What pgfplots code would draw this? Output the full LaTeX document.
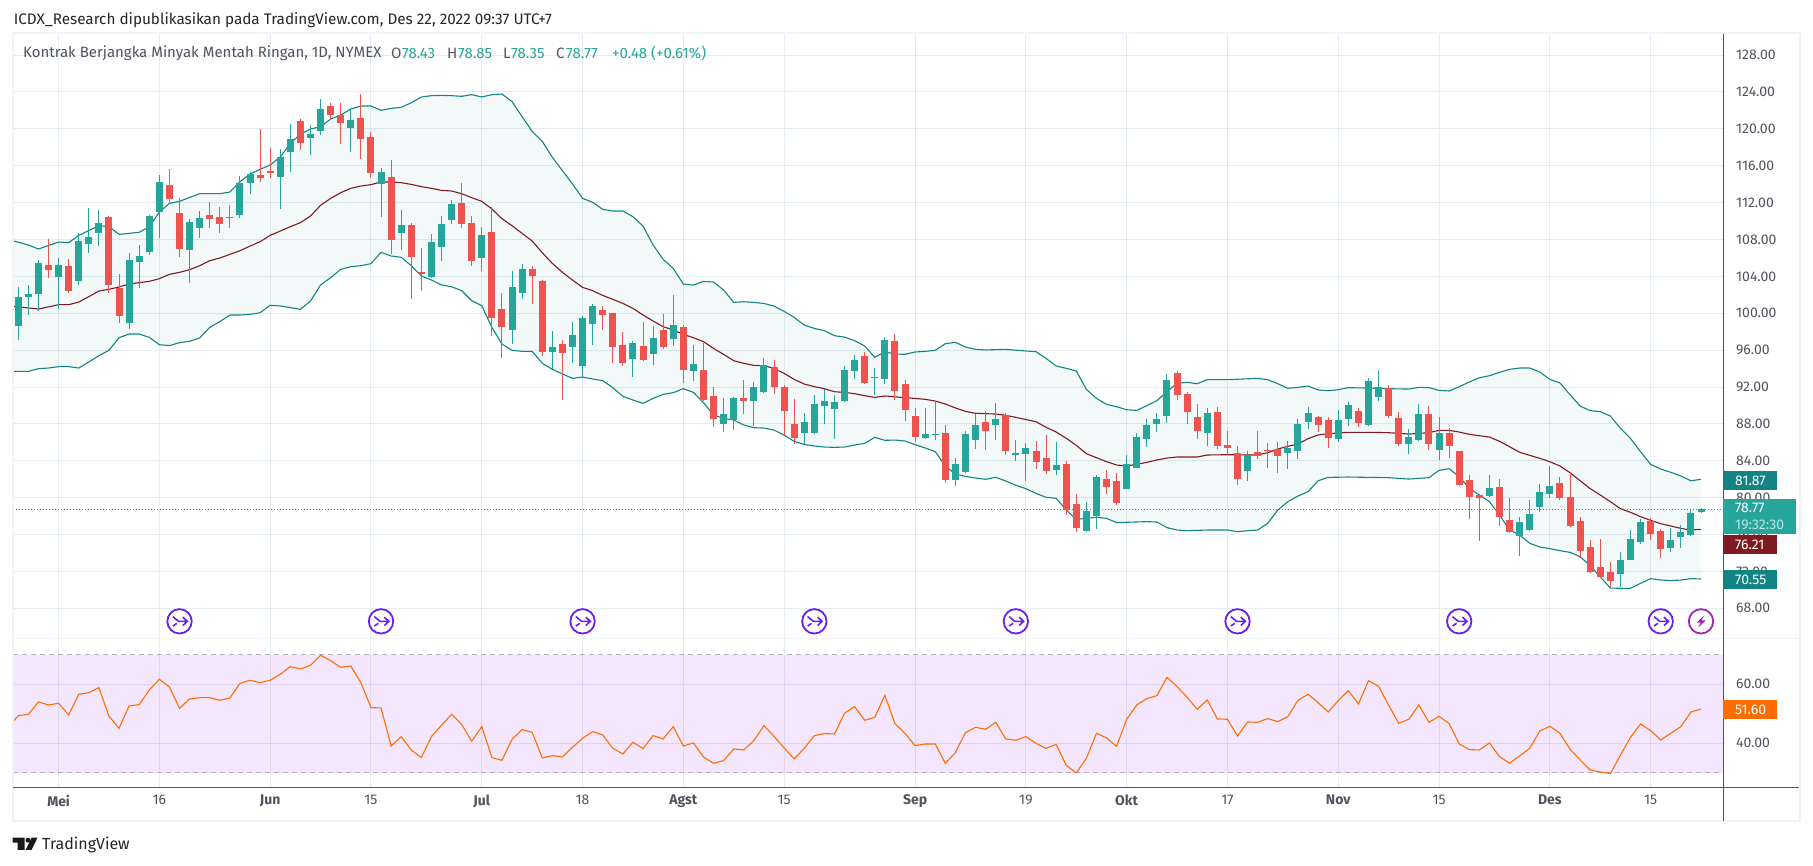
\documentclass[border=0pt]{standalone}
\usepackage{fontspec}
\setmainfont{Fira Sans}
\usepackage{pgfplots}
\usepackage{pgfplotstable}
\pgfplotsset{compat=1.18}
\usepgfplotslibrary{fillbetween}

\definecolor{tvgreen}{HTML}{26A69A}
\definecolor{tvred}{HTML}{EF5350}
\definecolor{bbteal}{HTML}{138484}
\definecolor{bbmid}{HTML}{801922}
\definecolor{tvgrid}{HTML}{E3ECF2}
\definecolor{tvframe}{HTML}{F0F3FA}
\definecolor{tvtext}{HTML}{50535E}
\definecolor{tvaxis}{HTML}{50535E}
\definecolor{rsiline}{HTML}{FF6D00}
\definecolor{rsifill}{RGB}{145,15,235}
\definecolor{rsidash}{HTML}{B9A9C4}
\definecolor{splitcol}{HTML}{6A1FF0}
\definecolor{boltcol}{HTML}{9C27B0}

% dividend / split style event icons
\pgfdeclareplotmark{splitevent}{%
  \pgfsetlinewidth{1.8pt}\pgfsetfillcolor{white}%
  \pgfpathcircle{\pgfpointorigin}{12.2pt}\pgfusepathqfillstroke
  \pgfsetlinewidth{1.6pt}%
  \pgfpathmoveto{\pgfqpoint{-6.7pt}{4.7pt}}\pgfpathlineto{\pgfqpoint{-1pt}{0pt}}\pgfpathlineto{\pgfqpoint{7.6pt}{0pt}}%
  \pgfpathmoveto{\pgfqpoint{3.3pt}{4.2pt}}\pgfpathlineto{\pgfqpoint{7.8pt}{0pt}}\pgfpathlineto{\pgfqpoint{3.3pt}{-4.2pt}}%
  \pgfpathmoveto{\pgfqpoint{-6.7pt}{-4.7pt}}\pgfpathlineto{\pgfqpoint{-2.7pt}{-2pt}}%
  \pgfusepathqstroke}
\pgfdeclareplotmark{boltevent}{%
  \pgfsetlinewidth{1.8pt}\pgfsetfillcolor{white}%
  \pgfpathcircle{\pgfpointorigin}{12.2pt}\pgfusepathqfillstroke
  \pgfsetfillcolor{boltcol}%
  \pgfpathmoveto{\pgfqpoint{3.3pt}{6pt}}\pgfpathlineto{\pgfqpoint{-4.3pt}{-1.3pt}}\pgfpathlineto{\pgfqpoint{-0.3pt}{-1.3pt}}%
  \pgfpathlineto{\pgfqpoint{-3pt}{-6.3pt}}\pgfpathlineto{\pgfqpoint{4.7pt}{0.9pt}}\pgfpathlineto{\pgfqpoint{0.7pt}{0.9pt}}\pgfpathclose
  \pgfusepathqfill}

\pgfplotstableread{
i o h l c
0 98.62 102.88 97.10 101.76
1 101.76 103.07 99.81 102.13
2 102.13 105.78 100.28 105.45
4 103.93 105.96 100.43 105.23
6 103.50 108.67 103.07 107.84
7 107.51 111.42 106.54 108.27
8 108.70 111.20 107.29 109.79
11 98.94 106.50 98.29 105.78
12 105.56 107.40 102.78 106.21
13 106.64 110.66 106.32 110.55
14 110.98 114.99 108.16 114.24
17 106.86 110.22 103.28 109.90
18 109.25 111.09 108.16 110.33
22 110.66 114.89 110.33 114.13
23 114.13 115.32 112.93 115.10
26 114.78 117.81 111.31 116.95
27 117.49 120.53 115.32 118.90
29 119.01 120.42 117.16 119.44
30 119.77 123.24 119.33 122.15
33 120.09 122.26 117.49 120.96
36 114.02 115.75 110.44 115.32
38 108.70 111.20 106.86 109.57
41 103.93 108.60 103.80 107.73
42 107.19 110.55 105.67 109.68
43 110.11 112.28 109.68 111.85
46 105.99 109.35 104.58 108.48
49 98.18 104.58 96.66 102.84
50 102.19 105.34 101.54 104.80
53 95.80 98.07 93.95 96.34
55 96.34 99.05 94.60 97.64
56 94.28 99.70 93.08 99.48
57 98.83 101.00 96.55 100.78
61 95.04 96.99 93.08 96.77
63 95.58 98.62 94.39 97.31
65 97.21 101.98 96.45 98.72
67 93.74 96.55 92.65 94.49
70 87.99 90.81 87.12 89.07
71 88.42 90.92 87.34 90.81
73 90.48 92.54 87.77 92.00
74 91.46 95.14 91.35 94.39
78 87.01 89.18 85.82 88.20
79 87.01 91.13 86.90 90.16
80 89.94 91.78 87.99 90.48
81 89.61 91.13 86.36 90.37
82 90.48 94.28 90.40 93.84
83 93.74 95.47 92.87 94.93
85 92.98 94.06 91.13 93.08
86 92.87 97.43 92.33 97.10
90 86.47 89.73 86.40 86.91
91 86.80 90.48 86.25 86.91
93 81.92 84.30 81.27 83.65
94 82.78 87.23 82.70 86.91
95 86.25 89.07 85.28 87.88
97 87.88 90.27 86.25 88.53
99 84.63 86.25 83.98 84.85
100 84.74 85.93 81.81 85.39
103 83.00 86.04 82.46 83.54
106 76.39 79.53 76.30 78.56
107 78.01 82.46 76.60 82.24
110 80.94 84.63 80.90 83.65
111 83.22 87.01 83.20 86.58
112 86.36 88.53 85.50 87.88
113 87.99 89.18 87.12 88.53
114 88.86 93.41 88.10 92.76
118 87.01 89.73 85.60 89.18
122 82.89 85.06 81.81 84.63
126 84.85 86.15 83.11 85.39
127 85.06 88.53 84.19 87.99
128 88.21 89.83 87.45 89.18
131 86.36 89.51 86.04 88.42
132 88.53 90.38 87.77 90.05
134 87.88 92.98 87.80 92.65
135 90.92 93.85 90.48 92.00
138 85.82 87.45 84.74 86.58
139 86.25 90.16 86.20 89.07
141 85.17 88.75 84.08 87.01
146 80.18 82.46 80.10 81.05
149 75.84 77.90 73.67 77.36
150 76.49 79.75 76.38 78.23
151 78.99 81.48 78.45 80.61
152 80.40 83.43 79.96 81.27
159 71.72 74.11 70.31 73.24
160 73.24 76.49 73.20 75.52
161 75.19 77.69 74.98 77.36
164 74.54 76.71 74.11 75.41
165 75.73 77.04 74.54 76.28
166 75.95 78.66 75.84 78.34
167 78.43 78.85 78.35 78.77
}\upbars

\pgfplotstableread{
i o h l c
3 105.23 108.02 103.82 104.69
5 105.13 105.88 102.23 102.41
9 110.44 110.55 102.20 103.07
10 102.78 104.26 98.94 99.70
15 113.91 115.65 111.89 112.39
16 110.87 112.50 106.10 106.97
19 110.66 112.07 109.25 110.22
20 110.44 111.52 108.70 109.68
21 110.44 111.74 109.25 110.33
24 114.99 119.98 114.24 114.67
25 115.43 117.92 114.67 115.21
28 120.85 121.07 117.71 118.47
31 122.48 122.80 120.96 121.50
32 121.50 122.80 118.36 120.63
34 121.18 123.78 116.73 118.90
35 119.12 119.66 114.67 115.21
37 114.78 116.62 106.43 107.95
39 109.57 109.79 101.55 106.10
40 104.48 107.08 102.41 104.26
44 111.95 114.12 109.24 109.68
45 109.79 110.54 105.12 105.66
47 108.81 111.52 97.53 99.48
48 100.46 102.19 95.14 98.51
51 104.80 105.12 101.00 104.04
52 103.50 103.60 95.36 95.80
54 96.66 97.10 90.59 95.69
58 100.35 100.78 98.18 99.81
59 100.03 100.03 94.60 96.34
60 96.55 97.96 94.28 94.60
62 96.45 99.05 94.82 94.93
64 98.18 99.92 96.12 96.34
66 98.51 98.72 92.43 93.84
68 93.84 96.77 90.50 90.59
69 91.02 92.00 87.66 88.53
72 90.81 92.76 89.07 90.48
75 94.17 94.93 91.24 92.00
76 92.00 92.22 86.79 89.40
77 87.99 90.70 85.82 86.47
84 95.36 95.80 92.33 92.43
87 96.99 97.75 90.59 91.57
88 92.33 92.76 88.32 89.51
89 88.86 89.73 86.04 86.58
92 87.01 87.88 81.59 81.92
96 88.21 89.40 85.17 87.23
98 88.97 89.18 84.63 85.06
101 85.06 86.15 83.11 83.87
102 84.30 86.80 82.57 82.89
104 83.65 83.98 78.12 78.66
105 79.31 80.40 76.28 76.71
108 82.03 83.00 80.40 81.16
109 81.81 82.68 79.21 79.42
115 93.52 93.74 90.59 91.14
116 91.24 91.46 87.99 89.29
117 88.75 90.16 86.36 87.23
119 89.29 89.83 85.28 85.60
120 85.71 87.23 84.63 85.39
121 84.85 85.60 81.37 82.03
123 84.95 87.23 84.19 84.52
124 85.17 85.93 83.22 85.06
125 85.28 86.04 82.68 84.52
129 88.75 88.86 87.12 87.88
130 88.42 88.75 85.39 86.47
133 89.40 89.72 87.66 88.10
136 91.89 92.22 88.64 88.86
137 88.64 89.29 85.60 85.82
140 89.07 89.94 85.17 85.82
142 87.01 87.56 84.30 85.60
143 85.06 85.10 81.27 81.37
144 81.92 82.46 77.69 80.07
145 80.29 80.40 75.30 79.96
147 81.16 82.02 76.93 77.90
148 77.58 79.96 76.20 76.28
153 81.59 82.24 79.75 79.96
154 80.07 82.78 76.82 76.93
155 77.47 77.90 73.57 74.22
156 74.65 75.41 71.83 71.94
157 72.48 75.52 71.29 71.40
158 71.94 73.02 70.20 70.96
162 77.47 77.80 75.41 76.06
163 76.38 76.60 73.46 74.43
}\downbars

\pgfplotstableread{
i p
-0.53 107.87
1 107.40
2 106.97
4 107.73
5 107.66
6 108.45
8 109.50
9 109.39
10 108.56
12 108.78
13 109.39
14 110.98
15 111.92
16 112.14
18 112.97
20 112.97
21 113.15
22 114.27
23 115.10
24 115.61
25 116.08
26 116.95
27 118.43
28 119.44
29 119.98
30 120.24
31 121.07
32 121.50
33 122.15
34 122.48
35 122.48
36 122.01
37 122.22
38 122.33
39 122.84
40 123.45
41 123.60
42 123.63
43 123.60
44 123.53
45 123.71
46 123.46
47 123.71
48 123.78
49 122.95
50 121.32
51 119.73
52 118.65
53 116.91
54 115.47
55 114.02
56 112.47
57 112.03
58 111.27
59 111.09
60 111.09
61 110.48
62 109.46
63 107.40
64 105.85
65 104.87
66 103.17
67 103.06
68 103.46
69 103.39
70 102.52
71 101.18
72 101.25
73 101.18
74 101.07
75 100.78
76 100.21
77 99.55
78 98.72
79 98.36
80 98.11
81 97.57
82 97.42
83 97.03
84 96.45
85 95.22
86 95.83
87 95.58
88 95.55
89 95.80
90 95.87
91 95.98
92 96.70
93 96.85
94 96.34
95 96.09
96 96.02
98 96.09
100 95.91
101 95.83
102 95.11
103 94.28
104 94.03
105 93.74
106 91.75
107 90.77
108 90.12
109 89.87
110 89.54
111 89.47
112 89.98
113 90.52
114 91.50
115 92.40
116 92.51
117 92.36
118 92.80
120 92.80
123 92.94
124 92.80
125 92.36
126 91.86
127 91.97
128 92.11
129 91.68
130 91.60
131 91.71
132 91.93
134 91.89
136 91.82
138 91.78
139 91.97
140 91.93
141 91.64
142 91.57
143 92.04
144 92.54
145 93.01
146 93.23
147 93.59
148 93.92
149 94.06
150 94.06
151 93.63
152 92.83
153 92.44
154 91.17
155 89.94
156 89.44
157 89.33
158 88.86
159 87.52
160 86.43
161 84.99
162 83.61
163 83.11
164 82.75
165 82.35
166 81.84
167 81.99
}\bbupper

\pgfplotstableread{
i p
-0.53 100.75
2 100.46
4 100.93
5 100.93
6 101.22
7 101.80
8 102.41
9 102.60
10 102.85
11 103.17
12 103.32
13 103.46
14 103.75
15 104.22
16 104.44
17 104.73
18 105.16
19 105.70
20 105.99
21 106.39
22 106.79
23 107.29
24 107.76
25 108.45
26 108.92
27 109.39
28 109.83
29 110.55
30 111.71
31 112.46
32 113.08
33 113.55
34 113.80
35 113.95
36 114.24
37 114.24
38 114.16
39 113.98
40 113.73
41 113.55
42 113.33
43 113.26
44 112.97
45 112.54
46 112.14
47 111.31
48 110.26
49 109.50
50 108.66
51 107.83
52 106.57
53 105.41
54 104.44
55 103.60
56 102.81
57 102.45
58 101.94
59 101.51
60 101.07
61 100.53
62 99.81
63 99.16
64 98.54
65 98.18
66 97.71
67 97.35
68 96.92
69 96.19
70 95.54
71 94.86
72 94.57
73 94.35
74 94.31
75 94.02
76 93.48
77 92.83
78 92.33
79 92.04
80 91.82
81 91.49
82 91.42
83 91.28
84 91.06
85 90.88
86 91.03
88 90.85
90 90.67
91 90.48
92 90.16
93 89.73
94 89.36
95 89.15
97 89.07
98 88.93
99 88.71
101 88.24
102 87.63
103 87.12
104 86.44
105 85.68
106 84.77
107 84.34
108 83.91
109 83.54
110 83.44
111 83.62
112 83.83
113 84.09
114 84.30
115 84.41
117 84.41
118 84.63
120 84.66
122 84.63
123 84.63
124 84.88
125 85.28
126 85.57
127 85.82
128 86.40
129 86.80
130 86.94
132 87.09
134 87.09
136 87.05
138 86.90
140 87.05
141 87.30
142 87.30
143 87.12
144 86.87
145 86.72
146 86.58
147 86.11
148 85.53
149 84.92
150 84.59
151 84.27
152 83.90
153 83.43
154 82.71
155 81.84
156 80.98
157 80.29
158 79.57
159 78.81
160 78.41
161 77.94
162 77.54
163 77.18
164 76.93
165 76.67
166 76.49
167 76.57
}\bbmiddle

\pgfplotstableread{
i p
-0.53 93.70
1 93.70
2 93.99
3 94.06
4 94.21
5 94.21
6 94.06
7 94.71
8 95.40
9 95.98
10 97.35
11 97.75
12 97.75
13 97.39
14 96.59
15 96.49
16 96.81
17 96.96
18 97.32
19 98.47
20 99.09
21 99.81
22 99.81
23 99.88
24 100.06
25 100.86
26 100.79
27 100.61
28 100.43
29 101.33
30 103.07
31 103.86
32 104.76
33 105.05
34 105.16
35 105.38
36 106.61
37 106.21
38 106.07
39 105.16
40 104.04
41 103.61
42 103.07
43 102.88
44 102.45
45 101.36
46 100.82
47 98.47
48 96.66
49 95.98
50 95.87
51 95.87
52 94.57
53 93.92
54 93.41
55 92.94
56 93.08
57 92.87
58 92.69
59 91.93
60 90.99
61 90.59
62 90.23
63 90.77
64 91.20
65 91.39
66 91.82
67 91.42
68 90.30
69 88.96
70 88.60
71 88.42
72 87.88
73 87.59
74 87.55
75 87.34
76 86.79
77 86.11
78 85.78
79 85.60
80 85.49
81 85.46
82 85.49
83 85.71
84 85.89
85 86.54
86 86.22
87 86.25
88 86.15
89 85.75
90 85.39
91 84.99
92 83.43
93 82.57
94 82.31
95 82.13
96 81.99
97 82.21
98 81.81
99 81.34
100 80.98
101 80.47
102 80.04
103 79.93
104 78.66
105 77.65
106 77.76
107 77.87
108 77.76
109 77.29
110 77.33
112 77.40
113 77.36
114 76.75
115 76.49
116 76.42
118 76.49
120 76.49
121 76.31
122 76.42
123 76.49
124 77.22
125 78.66
126 79.57
127 80.18
128 80.65
129 81.84
130 82.20
132 82.24
134 82.20
136 82.17
138 82.02
140 82.17
141 82.96
142 83.14
143 82.28
144 81.01
145 80.29
146 79.57
147 78.12
148 76.49
149 75.95
150 75.05
151 74.65
152 74.47
153 74.25
154 74.07
155 73.60
156 72.63
157 71.40
158 70.20
159 70.17
160 70.17
161 70.71
162 71.22
163 71.07
164 71.00
165 71.07
166 71.22
167 71.18
}\bblower

\pgfplotstableread{
i r
-0.53 47.34
0 49.38
1 49.83
2 54.01
3 53.00
4 53.56
5 49.60
6 56.61
7 57.17
8 58.87
9 49.15
10 45.09
11 52.66
12 53.11
13 58.08
14 61.70
15 59.10
16 51.86
17 55.03
18 55.48
19 55.48
20 54.58
21 55.37
22 60.34
23 61.36
24 60.57
25 61.36
26 63.39
27 65.99
28 65.20
29 66.44
30 69.83
31 68.02
32 65.76
33 66.22
34 60.57
35 52.09
36 51.98
37 39.09
38 42.26
39 37.74
40 35.14
41 42.26
42 46.10
43 49.83
44 46.44
45 40.68
46 45.65
47 35.14
48 34.24
49 41.36
50 44.63
51 43.73
52 35.03
53 35.82
54 35.37
55 38.64
56 41.70
57 43.96
58 42.83
59 38.30
60 36.38
61 40.34
62 38.19
63 42.60
64 41.47
65 45.65
66 39.09
67 40.11
68 35.37
69 33.22
70 34.12
71 38.08
72 37.74
73 40.90
74 45.99
75 42.37
76 38.42
77 34.69
78 38.30
79 42.60
80 43.28
81 43.16
82 50.17
83 52.43
84 47.80
85 48.81
86 56.27
87 46.67
88 43.39
89 39.21
90 39.77
91 39.77
92 33.22
93 36.84
94 43.62
95 45.42
96 44.75
97 47.12
98 41.47
99 41.02
100 42.26
101 40.00
102 38.30
103 39.66
104 32.54
105 29.94
106 34.91
107 43.39
108 41.81
109 38.98
110 48.14
111 53.00
112 55.14
113 56.16
114 62.37
115 59.21
116 55.59
117 51.53
118 54.69
119 48.25
120 48.14
121 42.49
122 47.23
123 47.12
124 48.36
125 47.34
126 49.04
127 54.58
128 56.61
129 53.79
130 50.62
131 54.46
132 57.85
133 53.33
134 61.24
135 59.32
136 52.88
137 46.78
138 48.14
139 53.00
140 47.12
141 49.15
142 46.67
143 39.77
144 37.85
145 37.74
146 40.11
147 35.48
148 33.22
149 35.71
150 38.30
151 44.18
152 45.76
153 43.39
154 37.97
155 34.35
156 30.96
157 30.28
158 29.72
159 35.93
160 42.03
161 46.55
162 44.29
163 41.13
164 43.39
165 45.65
166 50.62
167 51.60
}\rsidata

\newcommand{\fs}[1]{\fontsize{#1}{#1}\selectfont}

\begin{document}
\begin{tikzpicture}
\path (0,0) rectangle (1813pt,866pt);

% price pane
\begin{axis}[
  at={(13pt,227.7pt)}, anchor=south west,
  scale only axis, width=1710.6pt, height=604.3pt,
  xmin=-0.526, xmax=169.24, ymin=64.75, ymax=130.29,
  xtick={4,14,25,35,46,56,66,76,89,100,110,120,131,141,152,162},
  xticklabels={},
  ytick={68,72,76,80,84,88,92,96,100,104,108,112,116,120,124,128},
  yticklabels={68.00,72.00,76.00,80.00,84.00,88.00,92.00,96.00,100.00,104.00,108.00,112.00,116.00,120.00,124.00,128.00},
  yticklabel pos=right,
  yticklabel style={anchor=west, xshift=9pt, font=\fs{14}, text=tvtext},
  grid=major, grid style={draw=tvgrid, line width=1pt},
  axis line style={draw=none}, tick style={draw=none},
]
\addplot[name path=upper, bbteal, line width=1.1pt] table[x=i,y=p] {\bbupper};
\addplot[name path=lower, bbteal, line width=1.1pt] table[x=i,y=p] {\bblower};
\addplot[bbteal, fill opacity=.05, fill=bbteal, draw=none] fill between[of=upper and lower];
\addplot[bbmid, line width=1.1pt] table[x=i,y=p] {\bbmiddle};
\addplot[tvgreen, line width=1pt, dash pattern=on 1pt off 2pt] coordinates {(-0.526,78.77) (169.24,78.77)};
% wicks
\addplot[draw=none, mark=none, error bars/.cd, y dir=both, y explicit, error mark=none,
  error bar style={draw=tvgreen, line width=1pt}]
  table[x=i, y=c, y error plus expr=\thisrow{h}-\thisrow{c}, y error minus expr=\thisrow{c}-\thisrow{l}] {\upbars};
\addplot[draw=none, mark=none, error bars/.cd, y dir=both, y explicit, error mark=none,
  error bar style={draw=tvred, line width=1pt}]
  table[x=i, y=c, y error plus expr=\thisrow{h}-\thisrow{c}, y error minus expr=\thisrow{c}-\thisrow{l}] {\downbars};
% bodies
\addplot[draw=none, mark=none, error bars/.cd, y dir=plus, y explicit, error mark=none,
  error bar style={draw=tvgreen, line width=7pt}]
  table[x=i, y=o, y error plus expr=\thisrow{c}-\thisrow{o}] {\upbars};
\addplot[draw=none, mark=none, error bars/.cd, y dir=plus, y explicit, error mark=none,
  error bar style={draw=tvred, line width=7pt}]
  table[x=i, y=c, y error plus expr=\thisrow{o}-\thisrow{c}] {\downbars};
% event icons
\addplot[only marks, mark=splitevent, splitcol] coordinates {(16,66.59) (36,66.59) (56,66.59) (79,66.59) (99,66.59) (121,66.59) (143,66.59) (163,66.59)};
\addplot[only marks, mark=boltevent, boltcol] coordinates {(167,66.59)};
\end{axis}

% RSI pane
\begin{axis}[
  at={(13pt,78.7pt)}, anchor=south west,
  scale only axis, width=1710.6pt, height=149pt,
  xmin=-0.526, xmax=169.24, ymin=25.08, ymax=75.6,
  xtick={4,14,25,35,46,56,66,76,89,100,110,120,131,141,152,162},
  xticklabels={\textbf{Mei},16,\textbf{Jun},15,\textbf{Jul},18,\textbf{Agst},15,\textbf{Sep},19,\textbf{Okt},17,\textbf{Nov},15,\textbf{Des},15},
  xticklabel style={font=\fs{14}, text=tvtext, yshift=-4pt},
  ytick={40,60}, yticklabels={40.00,60.00},
  yticklabel pos=right,
  yticklabel style={anchor=west, xshift=9pt, font=\fs{14}, text=tvtext},
  grid=major, grid style={draw=tvgrid, line width=1pt},
  axis line style={draw=none}, tick style={draw=none},
]
\addplot[draw=none, fill=rsifill, fill opacity=.1] coordinates {(-0.526,30) (169.24,30) (169.24,70) (-0.526,70)} \closedcycle;
\addplot[rsidash, line width=1pt, dash pattern=on 5pt off 4pt] coordinates {(-0.526,70) (169.24,70)};
\addplot[rsidash, line width=1pt, dash pattern=on 5pt off 4pt] coordinates {(-0.526,30) (169.24,30)};
\addplot[rsiline, line width=1.1pt] table[x=i,y=r] {\rsidata};
\end{axis}

% furniture, in image pixels
\begin{scope}[x=1pt,y=-1pt,yshift=866pt]
\draw[tvframe, line width=2.2pt] (12.6,33.2) rectangle (1799.6,821.4);
\draw[tvframe, line width=1.4pt] (13,638.3) -- (1723.6,638.3);
\draw[tvframe, line width=1.4pt] (1723.6,638.3) -- (1799.6,638.3);
\draw[tvaxis, line width=1.2pt] (1723.6,34) -- (1723.6,821);
\draw[tvaxis, line width=1.2pt] (13,787.3) -- (1799,787.3);

\node[anchor=west, inner sep=0, font=\fs{15.3}, text=black!85] at (13.6,20) {ICDX\_Research dipublikasikan pada TradingView.com, Des 22, 2022 09:37 UTC+7};
\node[anchor=west, inner sep=0, font=\fs{15}, text=tvtext] at (23,53.5) {Kontrak Berjangka Minyak Mentah Ringan, 1D, NYMEX};
\node[anchor=west, inner sep=0, font=\fs{15}, text=tvtext] at (391,53.5) {O};
\node[anchor=west, inner sep=0, font=\fs{15}, text=tvgreen] at (402,53.5) {78.43};
\node[anchor=west, inner sep=0, font=\fs{15}, text=tvtext] at (447,53.5) {H};
\node[anchor=west, inner sep=0, font=\fs{15}, text=tvgreen] at (458,53.5) {78.85};
\node[anchor=west, inner sep=0, font=\fs{15}, text=tvtext] at (503,53.5) {L};
\node[anchor=west, inner sep=0, font=\fs{15}, text=tvgreen] at (511,53.5) {78.35};
\node[anchor=west, inner sep=0, font=\fs{15}, text=tvtext] at (556,53.5) {C};
\node[anchor=west, inner sep=0, font=\fs{15}, text=tvgreen] at (566,53.5) {78.77};
\node[anchor=west, inner sep=0, font=\fs{15}, text=tvgreen] at (612,53.5) {+0.48 (+0.61\%)};

% last-value tags
\fill[bbteal] (1723,471) rectangle (1776.7,490);
\node[anchor=west, inner sep=0, font=\fs{14}, text=white] at (1735,480.5) {81.87};
\fill[tvgreen] (1723,499) rectangle (1795.7,533.7);
\node[anchor=west, inner sep=0, font=\fs{14}, text=white] at (1735,508) {78.77};
\node[anchor=west, inner sep=0, font=\fs{14}, text=white!70!tvgreen] at (1735,525) {19:32:30};
\fill[bbmid] (1723,535) rectangle (1776.7,554);
\node[anchor=west, inner sep=0, font=\fs{14}, text=white] at (1735,545) {76.21};
\fill[bbteal] (1723,570) rectangle (1776.7,588.7);
\node[anchor=west, inner sep=0, font=\fs{14}, text=white] at (1735,580) {70.55};
\fill[rsiline] (1723,700) rectangle (1777,719);
\node[anchor=west, inner sep=0, font=\fs{14}, text=white] at (1735,709.5) {51.60};

% TradingView logo
\fill[black!90] (12.6,837.7) -- (24.5,837.7) -- (24.5,850) -- (17.6,850) -- (17.6,842.7) -- (12.6,842.7) -- cycle;
\fill[black!90] (28,840.2) circle (2.5);
\fill[black!90] (37.5,837.7) -- (31.5,850) -- (25.6,850) -- (31.6,837.7) -- cycle;
\node[anchor=west, inner sep=0, font=\fs{16}, text=black!85] at (42,845) {TradingView};
\end{scope}
\end{tikzpicture}
\end{document}
